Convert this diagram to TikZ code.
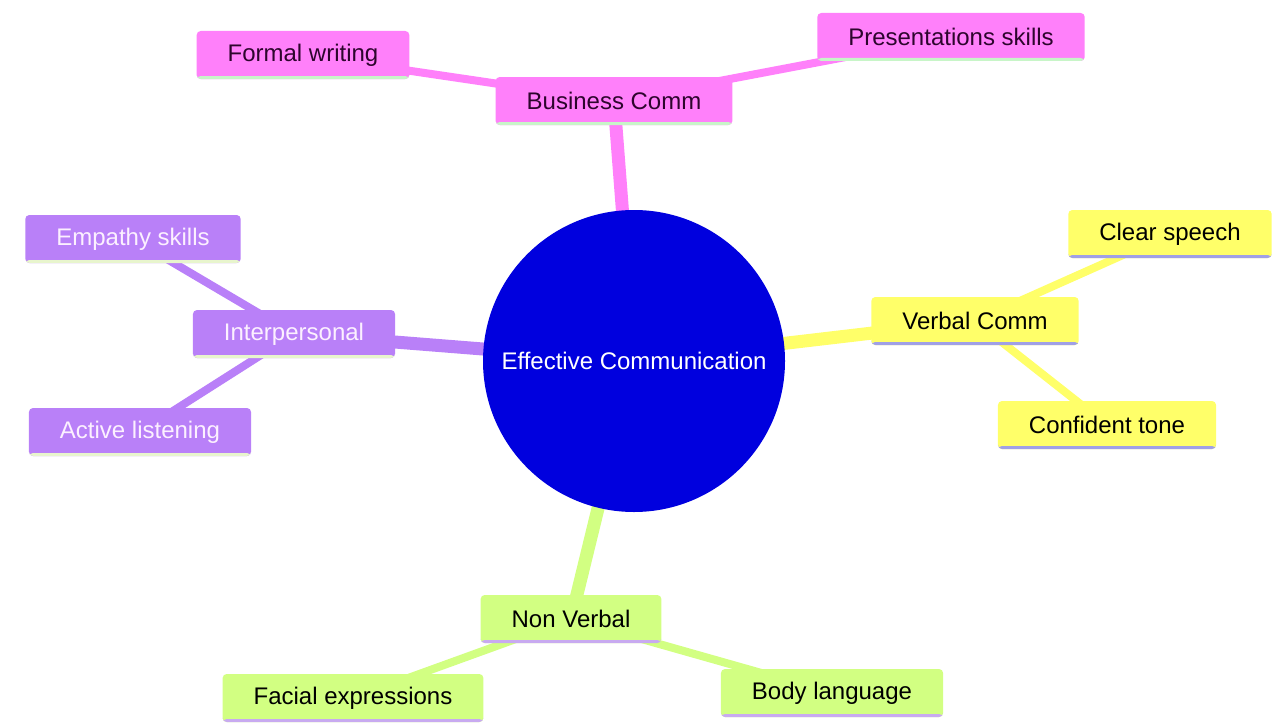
\documentclass[tikz,border=0pt]{standalone}
\usepackage{fontspec}
\setmainfont{Liberation Sans}
\usepackage{xcolor}
\usetikzlibrary{backgrounds}

\definecolor{bizpink}{RGB}{255,128,250}
\definecolor{bizline}{RGB}{200,245,200}
\definecolor{bizink}{RGB}{45,5,45}
\definecolor{verbyellow}{RGB}{255,255,105}
\definecolor{verbline}{RGB}{160,160,230}
\definecolor{nonvgreen}{RGB}{210,255,130}
\definecolor{nonvline}{RGB}{200,170,240}
\definecolor{interpurple}{RGB}{185,128,248}
\definecolor{interline}{RGB}{232,245,205}
\definecolor{interink}{RGB}{252,240,255}
\definecolor{rootblue}{RGB}{0,0,222}

\tikzset{
    mapbox/.style={rectangle, rounded corners=4pt, inner xsep=31pt, inner ysep=0pt,
        minimum height=48pt, font=\fontsize{24}{28}\selectfont},
    underbar/.style={path picture={\fill[#1] (path picture bounding box.south west)
        rectangle ([yshift=3pt]path picture bounding box.south east);}},
    mainedge/.style={line width=13pt},
    leafedge/.style={line width=8pt}
}

\begin{document}
\begin{tikzpicture}[x=1pt, y=-1pt]
    \useasboundingbox (0,0) rectangle (1276,725);

    % Centre
    \node[circle, fill=rootblue, text=white, minimum size=302pt, inner sep=0pt,
        font=\fontsize{24}{28}\selectfont] (root) at (634,361) {Effective Communication};

    % Business branch
    \node[mapbox, fill=bizpink, text=bizink, underbar=bizline] (biz) at (614,101) {Business Comm};
    \node[mapbox, fill=bizpink, text=bizink, underbar=bizline] (formal) at (303,55) {Formal writing};
    \node[mapbox, fill=bizpink, text=bizink, underbar=bizline] (present) at (951,37) {Presentations skills};

    % Verbal branch
    \node[mapbox, fill=verbyellow, text=black, underbar=verbline] (verbal) at (975,321) {Verbal Comm};
    \node[mapbox, fill=verbyellow, text=black, underbar=verbline] (clear) at (1170,234) {Clear speech};
    \node[mapbox, fill=verbyellow, text=black, underbar=verbline] (tone) at (1107,425) {Confident tone};

    % Non verbal branch
    \node[mapbox, fill=nonvgreen, text=black, underbar=nonvline] (nonverbal) at (571,619) {Non Verbal};
    \node[mapbox, fill=nonvgreen, text=black, underbar=nonvline] (facial) at (353,698) {Facial expressions};
    \node[mapbox, fill=nonvgreen, text=black, underbar=nonvline] (body) at (832,693) {Body language};

    % Interpersonal branch
    \node[mapbox, fill=interpurple, text=interink, underbar=interline] (inter) at (294,334) {Interpersonal};
    \node[mapbox, fill=interpurple, text=interink, underbar=interline] (empathy) at (133,239) {Empathy skills};
    \node[mapbox, fill=interpurple, text=interink, underbar=interline] (listen) at (140,432) {Active listening};

    % Links
    \begin{scope}[on background layer]
        \draw[mainedge, bizpink] (root.center) -- (biz.center);
        \draw[leafedge, bizpink] (biz.center) -- (formal.center);
        \draw[leafedge, bizpink] (biz.center) -- (present.center);

        \draw[mainedge, verbyellow] (root.center) -- (verbal.center);
        \draw[leafedge, verbyellow] (verbal.center) -- (clear.center);
        \draw[leafedge, verbyellow] (verbal.center) -- (tone.center);

        \draw[mainedge, nonvgreen] (root.center) -- (nonverbal.center);
        \draw[leafedge, nonvgreen] (nonverbal.center) -- (facial.center);
        \draw[leafedge, nonvgreen] (nonverbal.center) -- (body.center);

        \draw[mainedge, interpurple] (root.center) -- (inter.center);
        \draw[leafedge, interpurple] (inter.center) -- (empathy.center);
        \draw[leafedge, interpurple] (inter.center) -- (listen.center);
    \end{scope}
\end{tikzpicture}
\end{document}
